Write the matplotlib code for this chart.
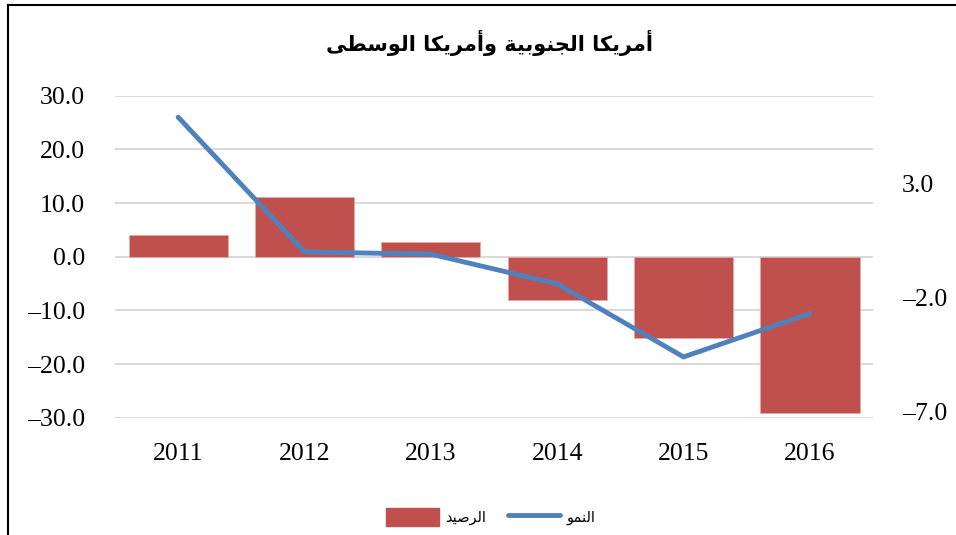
import matplotlib
matplotlib.use("Agg")
import matplotlib.pyplot as plt
from matplotlib.lines import Line2D
from matplotlib.patches import Patch
from matplotlib.ticker import FuncFormatter

# ---------------- data ----------------
years = ["2011", "2012", "2013", "2014", "2015", "2016"]
balance = [4.0, 11.2, 2.7, -8.1, -15.2, -29.2]      # الرصيد (left axis)
growth = [5.9, 0.0, -0.1, -1.4, -4.6, -2.7]         # النمو (right axis)
left_ticks = [30, 20, 10, 0, -10, -20, -30]
right_ticks = [3, -2, -7]
title_text = "أمريكا الجنوبية وأمريكا الوسطى"
label_balance = "الرصيد"
label_growth = "النمو"

# ------------- minimal Arabic shaping -------------
FORMS = {  # isolated, final, initial, medial
    "\u0623": ("\uFE83", "\uFE84", None, None),
    "\u0627": ("\uFE8D", "\uFE8E", None, None),
    "\u0628": ("\uFE8F", "\uFE90", "\uFE91", "\uFE92"),
    "\u0629": ("\uFE93", "\uFE94", None, None),
    "\u062C": ("\uFE9D", "\uFE9E", "\uFE9F", "\uFEA0"),
    "\u062F": ("\uFEA9", "\uFEAA", None, None),
    "\u0631": ("\uFEAD", "\uFEAE", None, None),
    "\u0633": ("\uFEB1", "\uFEB2", "\uFEB3", "\uFEB4"),
    "\u0635": ("\uFEB9", "\uFEBA", "\uFEBB", "\uFEBC"),
    "\u0637": ("\uFEC1", "\uFEC2", "\uFEC3", "\uFEC4"),
    "\u0643": ("\uFED9", "\uFEDA", "\uFEDB", "\uFEDC"),
    "\u0644": ("\uFEDD", "\uFEDE", "\uFEDF", "\uFEE0"),
    "\u0645": ("\uFEE1", "\uFEE2", "\uFEE3", "\uFEE4"),
    "\u0646": ("\uFEE5", "\uFEE6", "\uFEE7", "\uFEE8"),
    "\u0648": ("\uFEED", "\uFEEE", None, None),
    "\u0649": ("\uFEEF", "\uFEF0", None, None),
    "\u064A": ("\uFEF1", "\uFEF2", "\uFEF3", "\uFEF4"),
}


def dual(c):
    return c in FORMS and FORMS[c][2] is not None


def shape(s):
    out = []
    for i, c in enumerate(s):
        if c not in FORMS:
            out.append(c)
            continue
        prev = s[i - 1] if i > 0 else ""
        nxt = s[i + 1] if i + 1 < len(s) else ""
        join_prev = dual(prev)
        join_next = dual(c) and (nxt in FORMS)
        iso, fin, ini, med = FORMS[c]
        if join_prev and join_next:
            out.append(med)
        elif join_prev:
            out.append(fin)
        elif join_next:
            out.append(ini)
        else:
            out.append(iso)
    return "".join(out)[::-1]


def fmt(v, p):
    return f"{v:.1f}".replace("-", "\u2013")


# ---------------- figure ----------------
plt.rcParams["font.family"] = ["Liberation Serif", "DejaVu Serif"]

fig = plt.figure(figsize=(9.56, 5.35), dpi=100)
ax = fig.add_axes([0.1203, 0.2193, 0.7929, 0.6018])
ax2 = ax.twinx()

x = list(range(len(years)))
bar_color = "#C0504D"
line_color = "#4F81BD"

ax.bar(x, balance, width=0.786, color=bar_color, edgecolor="#E6A9A7",
       linewidth=0.6, zorder=2)
ax.set_ylim(-30, 30)
ax.set_xlim(-0.5, len(years) - 0.5)
ax.set_yticks(left_ticks)
ax.yaxis.set_major_formatter(FuncFormatter(fmt))
ax.grid(axis="y", color="#D9D9D9", linewidth=1.4, zorder=0)
ax.set_axisbelow(True)
ax.set_xticks(x)
ax.set_xticklabels(years)
ax.tick_params(axis="both", length=0, labelsize=18.5, colors="#000000")
ax.tick_params(axis="y", pad=21.6)
ax.tick_params(axis="x", pad=18.4)
for sp in ax.spines.values():
    sp.set_visible(False)

ax2.plot(x, growth, color=line_color, linewidth=3.5, solid_capstyle="round",
         solid_joinstyle="miter", zorder=3)
ax2.set_ylim(-7.26, 6.84)
ax2.set_yticks(right_ticks)
ax2.yaxis.set_major_formatter(FuncFormatter(fmt))
ax2.tick_params(axis="y", length=0, labelsize=18.5, pad=20.7)
for sp in ax2.spines.values():
    sp.set_visible(False)

# title
fig.text(490 / 956, 1 - 43 / 535, shape(title_text), ha="center", va="center",
         fontsize=15, fontweight="bold", family=["DejaVu Sans"])

# legend
handles = [Patch(facecolor=bar_color, edgecolor=bar_color),
           Line2D([0], [0], color=line_color, linewidth=3.5, solid_capstyle="round")]
labels = [shape(label_balance), shape(label_growth)]
fig.legend(handles, labels, loc="center", bbox_to_anchor=(491 / 956, 1 - 517 / 535),
           ncol=2, frameon=False, prop={"family": "DejaVu Sans", "size": 10.5},
           handlelength=3.6, handleheight=1.5, columnspacing=1.5, handletextpad=0.45)

# outer frame (partially visible)
fig.add_artist(Line2D([8 / 956, 1.0], [1 - 5 / 535, 1 - 5 / 535], color="black",
                      linewidth=1.5, transform=fig.transFigure))
fig.add_artist(Line2D([8 / 956, 8 / 956], [0.0, 1 - 5 / 535], color="black",
                      linewidth=1.5, transform=fig.transFigure))

fig.savefig("out.png", dpi=100)
